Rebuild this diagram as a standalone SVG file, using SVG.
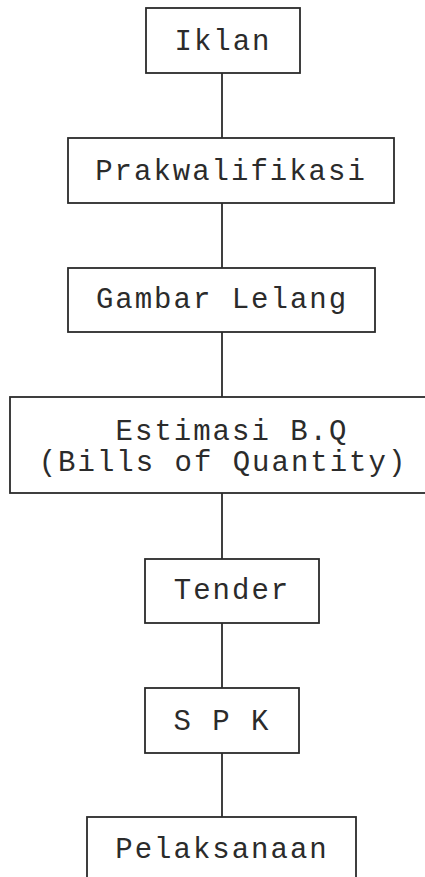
<svg xmlns="http://www.w3.org/2000/svg" width="425" height="877" viewBox="0 0 425 877">
<style>
.box{fill:#fff;stroke:#2b2b2b;stroke-width:1.8}
.lbl{font-family:"Liberation Mono","DejaVu Sans Mono",monospace;font-size:29px;letter-spacing:2px;fill:#2b2b2b;text-anchor:middle}
.con{stroke:#2b2b2b;stroke-width:1.8;fill:none}
</style>
<rect width="425" height="877" fill="#fff"/>
<g id="connectors">
<line class="con" x1="222" y1="73" x2="222" y2="138"/>
<line class="con" x1="222" y1="203" x2="222" y2="268"/>
<line class="con" x1="222" y1="332" x2="222" y2="397"/>
<line class="con" x1="222" y1="493" x2="222" y2="559"/>
<line class="con" x1="222" y1="623" x2="222" y2="688"/>
<line class="con" x1="222" y1="753" x2="222" y2="817"/>
</g>
<g id="iklan">
<rect class="box" x="146" y="8" width="154" height="65"/>
<text class="lbl" x="223" y="50">Iklan</text>
</g>
<g id="prakwalifikasi">
<rect class="box" x="68" y="138" width="326" height="65"/>
<text class="lbl" x="231" y="180">Prakwalifikasi</text>
</g>
<g id="gambar-lelang">
<rect class="box" x="68" y="268" width="307" height="64"/>
<text class="lbl" x="222" y="308">Gambar Lelang</text>
</g>
<g id="estimasi">
<rect class="box" x="10" y="397" width="430" height="96"/>
<text class="lbl" x="232" y="440">Estimasi B.Q</text>
<text class="lbl" x="223" y="471">(Bills of Quantity)</text>
</g>
<g id="tender">
<rect class="box" x="145" y="559" width="174" height="64"/>
<text class="lbl" x="232" y="599">Tender</text>
</g>
<g id="spk">
<rect class="box" x="145" y="688" width="154" height="65"/>
<text class="lbl" x="222" y="730">S P K</text>
</g>
<g id="pelaksanaan">
<rect class="box" x="87" y="817" width="269" height="80"/>
<text class="lbl" x="222" y="858">Pelaksanaan</text>
</g>
</svg>
